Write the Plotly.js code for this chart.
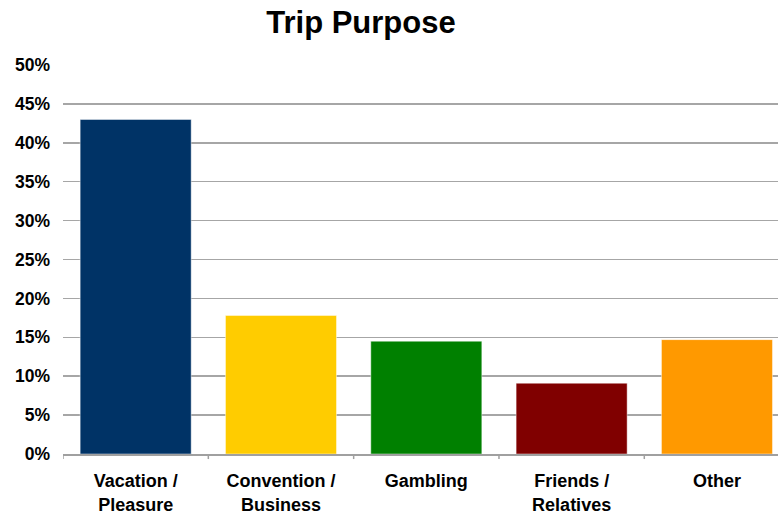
<!DOCTYPE html>
<html>
<head>
<meta charset="utf-8">
<script src="https://cdn.plot.ly/plotly-3.0.1.min.js"></script>
<style>html,body{margin:0;padding:0;background:#fff;}#chart{width:778px;height:515px;}</style>
</head>
<body>
<div id="chart"></div>
<script>
const categories = ["Vacation /<br>Pleasure", "Convention /<br>Business", "Gambling", "Friends /<br>Relatives", "Other"];
const values = [0.43, 0.178, 0.145, 0.091, 0.147];
const barColors = ["#003366", "#FFCC00", "#008000", "#800000", "#FF9900"];
const yTicks = [0, 0.05, 0.10, 0.15, 0.20, 0.25, 0.30, 0.35, 0.40, 0.45, 0.50];

const font = "Liberation Sans, Arial, sans-serif";
const data = [{
  type: "bar",
  x: [0, 1, 2, 3, 4],
  y: values,
  width: 0.764,
  marker: {color: barColors, line: {color: "rgba(255,255,255,0.45)", width: 1}},
  hoverinfo: "none"
}];
const layout = {
  width: 778, height: 515,
  paper_bgcolor: "#fff", plot_bgcolor: "#fff",
  margin: {l: 63, r: 0, t: 65, b: 61},
  showlegend: false,
  title: {text: "<b>Trip Purpose</b>", font: {family: font, size: 31, color: "#000"}, x: 0.464, xref: "container", xanchor: "center", y: 0.957, yanchor: "middle"},
  xaxis: {
    type: "linear",
    range: [-0.5, 4.42],
    tickvals: [0, 1, 2, 3, 4],
    ticktext: categories,
    showgrid: false, zeroline: false,
    showline: true, linecolor: "#A0A0A0", linewidth: 1.5,
    ticks: "",
    tickfont: {family: font, size: 18, color: "#000", weight: "bold"},
    ticklabelstandoff: 10
  },
  yaxis: {
    range: [0, 0.5],
    tickvals: yTicks,
    tickformat: ".0%",
    showgrid: true, gridcolor: "#A6A6A6", gridwidth: 1.5,
    zeroline: false, showline: false,
    ticks: "",
    tickfont: {family: font, size: 17.5, color: "#000", weight: "bold"},
    ticklabelstandoff: 12
  },
  shapes: [0.5, 1.5, 2.5, 3.5].map(v => ({type: "line", xref: "x", yref: "paper", x0: v, x1: v, y0: 0, y1: -0.013, line: {color: "#A0A0A0", width: 1.5}})).concat([{type: "line", xref: "x", yref: "paper", x0: -0.5, x1: -0.5, y0: 0, y1: -0.013, line: {color: "#A0A0A0", width: 1.5}}])
};
Plotly.newPlot("chart", data, layout, {staticPlot: true});
</script>
</body>
</html>
